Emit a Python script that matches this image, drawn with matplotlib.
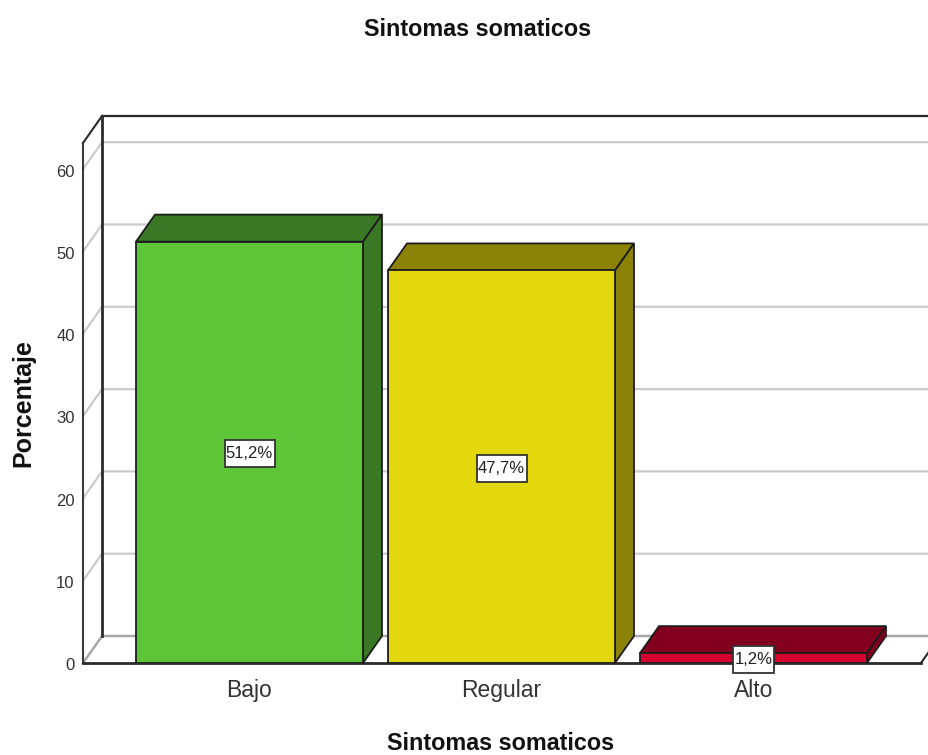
import matplotlib
matplotlib.use('Agg')
import matplotlib.pyplot as plt
from matplotlib.patches import Polygon, Rectangle
from matplotlib.transforms import ScaledTranslation

categories = ['Bajo', 'Regular', 'Alto']
percent = [51.2, 47.7, 1.2]
labels = ['51,2%', '47,7%', '1,2%']
y_ticks = [0, 10, 20, 30, 40, 50, 60]

front_colors = ['#5EC438', '#E3D80E', '#D5002C']
dark_colors = ['#3A7826', '#8B8208', '#82001E']

plt.rcParams['font.family'] = ['Liberation Sans', 'DejaVu Sans']

W, H = 929, 755
fig = plt.figure(figsize=(W / 100, H / 100), dpi=100, facecolor='white')
ax = fig.add_axes([83 / W, (H - 663) / H, (921 - 83) / W, 520 / H])

ymax = 520 / 8.23
ax.set_xlim(-166.5 / 252, 671.5 / 252)
ax.set_ylim(0, ymax)
for s in ax.spines.values():
    s.set_visible(False)

# depth of the fake 3d box, in data units
dx = 19 / 252
dy = 27 / 8.23
x0, x1 = ax.get_xlim()
edge = '#2b2b2b'

# gridlines on side wall and back wall
for t in y_ticks[1:]:
    ax.plot([x0, x0 + dx, x1 + dx], [t, t + dy, t + dy], color='#cbcbcb', lw=1.6, clip_on=False, zorder=1)
ax.plot([x0, x0 + dx, x1 + dx], [0, dy, dy], color='#a8a8a8', lw=1.8, clip_on=False, zorder=1)

# box outline
ax.plot([x0, x0], [0, ymax], color='#3a3a3a', lw=1.5, clip_on=False, zorder=2)
ax.plot([x0, x0 + dx], [ymax, ymax + dy], color=edge, lw=1.5, clip_on=False, zorder=2)
ax.plot([x0 + dx, x0 + dx], [dy, ymax + dy], color=edge, lw=2, clip_on=False, zorder=2)
ax.plot([x0 + dx, x1 + dx], [ymax + dy, ymax + dy], color=edge, lw=1.6, clip_on=False, zorder=2)
ax.plot([x0, x1], [0, 0], color=edge, lw=2, clip_on=False, zorder=2)
ax.plot([x1, x1 + dx], [0, dy], color=edge, lw=1.5, clip_on=False, zorder=2)

positions = range(len(categories))
width = 227 / 252
for i, v in zip(positions, percent):
    left = i - width / 2
    right = i + width / 2
    top = Polygon([(left, v), (left + dx, v + dy), (right + dx, v + dy), (right, v)],
                  facecolor=dark_colors[i], edgecolor='#1c1c1c', lw=1.3, clip_on=False, zorder=3)
    side = Polygon([(right, 0), (right + dx, dy), (right + dx, v + dy), (right, v)],
                   facecolor=dark_colors[i], edgecolor='#1c1c1c', lw=1.3, clip_on=False, zorder=3)
    ax.add_patch(top)
    ax.add_patch(side)
ax.bar(list(positions), percent, width=width, color=front_colors, edgecolor='#1c1c1c', linewidth=1.3, zorder=4)

# value labels sit mid bar, box is taller than the text
box_h = 27 / 8.23
shift = 1.5 / 8.23
for i, v in zip(positions, percent):
    box_w = (41 if len(labels[i]) == 4 else 50) / 252
    ax.add_patch(Rectangle((i - box_w / 2, v / 2 - box_h / 2 - shift), box_w, box_h, facecolor='white',
                           edgecolor='#333333', linewidth=1.3, clip_on=False, zorder=5))
    ax.text(i, v / 2 - 0.2, labels[i], ha='center', va='center', fontsize=12, color='#222222', zorder=6)

ax.set_yticks(y_ticks)
ax.set_xticks(list(positions))
ax.set_xticklabels(categories)
ax.tick_params(axis='y', length=0, pad=6, labelsize=12, labelcolor='#333333')
ax.tick_params(axis='x', length=0, pad=11.5, labelsize=16.5, labelcolor='#333333')
for lab in ax.get_yticklabels():
    lab.set_transform(lab.get_transform() + ScaledTranslation(0, -1 / 72, fig.dpi_scale_trans))

fig.text(478 / W, 1 - 30 / H, 'Sintomas somaticos', ha='center', va='center', fontsize=16.8, fontweight='bold', color='#111111')
fig.text(501 / W, 1 - 744 / H, 'Sintomas somaticos', ha='center', va='center', fontsize=16.8, fontweight='bold', color='#111111')
fig.text(23 / W, 1 - 403 / H, 'Porcentaje', ha='center', va='center', rotation=90, fontsize=18, fontweight='bold', color='#111111')

fig.savefig('out.png', dpi=100, facecolor='white')
